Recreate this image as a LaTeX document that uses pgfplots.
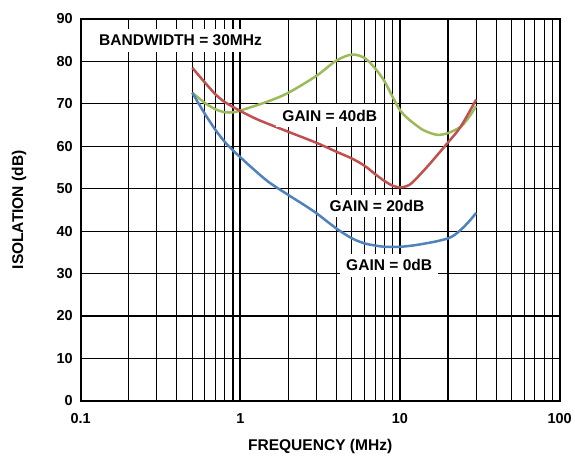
\documentclass[border=0pt]{standalone}
\usepackage{pgfplots}
\pgfplotsset{compat=1.18}
\usepackage{fontspec}
\setmainfont{Liberation Sans}
\definecolor{cgreen}{HTML}{9BBB59}
\definecolor{cred}{HTML}{C0504D}
\definecolor{cblue}{HTML}{4F81BD}
\newcommand{\tickf}{\fontsize{14.5}{17}\selectfont\bfseries}
\newcommand{\labf}{\fontsize{15.6}{18}\selectfont\bfseries}
\begin{document}
\begin{tikzpicture}
\begin{axis}[
  xmode=log,
  scale only axis,
  width=480.7pt, height=383.3pt,
  xmin=0.1, xmax=100, ymin=0, ymax=90,
  xtick={0.1,1,10,100},
  xticklabels={0.1,1,10,100},
  minor xtick={0.2,0.3,0.4,0.5,0.6,0.7,0.8,0.9,2,3,4,5,6,7,8,9,20,30,40,50,60,70,80,90},
  ytick={0,10,20,30,40,50,60,70,80,90},
  major tick length=0pt, minor tick length=0pt,
  grid=both,
  major x grid style={black, line width=1.7pt},
  minor x grid style={black, line width=1.1pt},
  major y grid style={black, line width=1.1pt},
  axis line style={black, line width=1.8pt},
  /pgf/number format/assume math mode=true,
  xticklabel style={font=\tickf, yshift=-9pt},
  yticklabel style={font=\tickf, xshift=-4.5pt},
  xlabel={FREQUENCY (MHz)},
  ylabel={ISOLATION (dB)},
  xlabel style={font=\labf, at={([yshift=-49.7pt]axis description cs:0.5,0)}, anchor=base},
  ylabel style={font=\labf, at={([xshift=-57.7pt]axis description cs:0,0.5)}, anchor=base},
]
% GAIN = 40dB
\addplot[cgreen, line width=2.5pt, smooth] coordinates {
(0.5,72.6) (0.6,70.2) (0.7,68.7) (0.8,68.0) (0.9,68.0) (1,68.4)
(1.5,70.6) (2,72.6) (3,76.6) (4,80.2) (5,81.6) (6,80.8) (7,78.3)
(8,75.3) (9,71.6) (10,68.5) (11,66.8) (12,65.6) (14,63.8) (17,62.7)
(20,63.1) (24,64.6) (27,66.8) (30,69.5)
};
% GAIN = 20dB
\addplot[cred, line width=2.5pt, smooth] coordinates {
(0.5,78.5) (0.6,75.0) (0.7,72.2) (0.8,70.4) (1,68.3) (1.3,66.2) (2,63.4)
(3,60.8) (4,58.7) (5,57.1) (6,55.4) (7,53.4) (8,51.8) (9,50.7) (10,50.3)
(11,50.6) (12,51.5) (15,55.4) (20,60.9) (24,64.6) (30,71.0)
};
% GAIN = 0dB
\addplot[cblue, line width=2.5pt, smooth] coordinates {
(0.5,72.6) (0.6,67.6) (0.7,63.8) (0.8,61.0) (0.9,59.0) (1,57.4) (1.2,54.7)
(1.5,51.6) (2,48.5) (2.5,46.2) (3,44.2) (4,40.6) (5,38.3) (6,37.1) (7,36.6)
(8,36.3) (10,36.3) (12,36.6) (14,37.0) (17,37.6) (20,38.3) (22,39.1)
(25,40.9) (28,42.9) (30,44.3)
};
\node[fill=white, font=\labf, inner xsep=8pt, inner ysep=6pt] at (axis cs:0.422,84.9) {BANDWIDTH = 30MHz};
\node[fill=white, font=\labf, inner xsep=6pt, inner ysep=6pt] at (axis cs:3.63,67.2) {GAIN = 40dB};
\node[fill=white, font=\labf, inner xsep=6pt, inner ysep=5pt] at (axis cs:7.18,45.9) {GAIN = 20dB};
\node[fill=white, font=\labf, inner xsep=6pt, inner ysep=6pt] at (axis cs:8.56,31.95) {GAIN = 0dB};
\coordinate (sw) at (rel axis cs:0,0);
\coordinate (ne) at (rel axis cs:1,1);
\end{axis}
\path ([shift={(-81pt,-51pt)}]sw) rectangle ([shift={(13.3pt,19pt)}]ne);
\end{tikzpicture}
\end{document}
